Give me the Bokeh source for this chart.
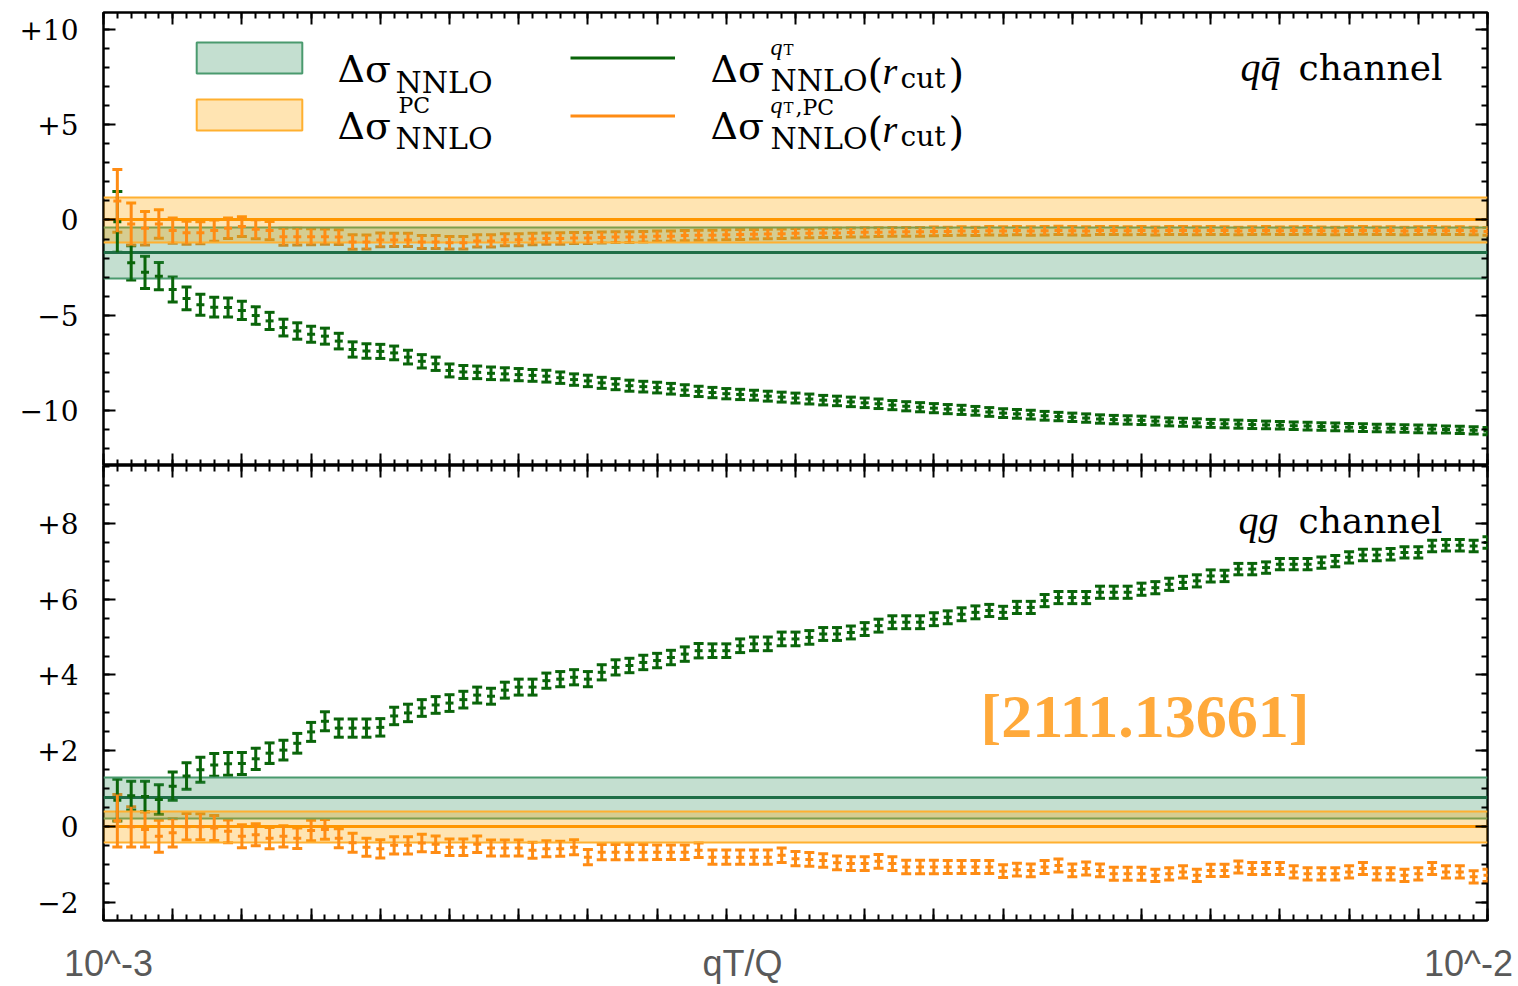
import numpy as np
from bokeh.plotting import figure
from bokeh.layouts import column
from bokeh.models import (LinearAxis, SingleIntervalTicker, FixedTicker, Whisker, TeeHead,
                          ColumnDataSource, Legend, LegendItem, Label, Range1d)
from bokeh.embed import file_html
from bokeh.resources import INLINE

# ---------------- data ----------------
r_cut = [i / 100 for i in range(1, 101)]

qqbar_qT = [
    -0.10, -2.25, -2.75, -2.95, -3.65, -4.12, -4.45, -4.58, -4.60, -4.75,
    -5.02, -5.30, -5.65, -5.83, -6.00, -6.10, -6.36, -6.80, -6.88, -6.90,
    -6.98, -7.20, -7.42, -7.55, -7.90, -7.98, -8.00, -8.05, -8.08, -8.12,
    -8.16, -8.20, -8.28, -8.38, -8.45, -8.55, -8.62, -8.70, -8.75, -8.80,
    -8.86, -8.93, -9.00, -9.06, -9.12, -9.16, -9.20, -9.25, -9.30, -9.35,
    -9.40, -9.46, -9.50, -9.55, -9.60, -9.65, -9.72, -9.78, -9.83, -9.88,
    -9.93, -9.97, -10.02, -10.08, -10.14, -10.18, -10.22, -10.28, -10.32, -10.36,
    -10.40, -10.45, -10.48, -10.50, -10.52, -10.56, -10.60, -10.62, -10.65, -10.68,
    -10.70, -10.72, -10.74, -10.76, -10.78, -10.80, -10.82, -10.84, -10.86, -10.88,
    -10.90, -10.92, -10.93, -10.95, -10.97, -10.98, -11.00, -11.02, -11.04, -11.08]
qqbar_qT_err = [
    1.60, 0.90, 0.85, 0.72, 0.66, 0.60, 0.55, 0.52, 0.50, 0.48,
    0.46, 0.45, 0.44, 0.43, 0.42, 0.42, 0.41, 0.40, 0.38, 0.37,
    0.36, 0.36, 0.35, 0.35, 0.34, 0.34, 0.33, 0.33, 0.32, 0.32,
    0.31, 0.31, 0.30, 0.30, 0.30, 0.29, 0.29, 0.29, 0.28, 0.28,
    0.28, 0.28, 0.27, 0.27, 0.27, 0.27, 0.26, 0.26, 0.26, 0.26,
    0.26, 0.25, 0.25, 0.25, 0.25, 0.25, 0.24, 0.24, 0.24, 0.24,
    0.24, 0.24, 0.23, 0.23, 0.23, 0.23, 0.23, 0.23, 0.22, 0.22,
    0.22, 0.22, 0.22, 0.22, 0.22, 0.21, 0.21, 0.21, 0.21, 0.21,
    0.21, 0.21, 0.21, 0.20, 0.20, 0.20, 0.20, 0.20, 0.20, 0.20,
    0.20, 0.20, 0.20, 0.20, 0.20, 0.20, 0.19, 0.19, 0.19, 0.19]

qqbar_pc = [
    1.00, -0.21, -0.44, -0.21, -0.56, -0.67, -0.67, -0.56, -0.44, -0.35,
    -0.49, -0.56, -0.88, -0.88, -0.88, -0.88, -0.90, -1.16, -1.16, -1.05,
    -1.05, -1.05, -1.16, -1.16, -1.20, -1.20, -1.10, -1.10, -1.04, -1.04,
    -1.00, -0.98, -0.97, -0.95, -0.95, -0.92, -0.90, -0.90, -0.88, -0.85,
    -0.85, -0.82, -0.80, -0.80, -0.78, -0.76, -0.75, -0.74, -0.72, -0.70,
    -0.70, -0.68, -0.68, -0.66, -0.65, -0.64, -0.63, -0.62, -0.62, -0.60,
    -0.60, -0.58, -0.60, -0.57, -0.58, -0.56, -0.58, -0.57, -0.55, -0.57,
    -0.58, -0.56, -0.55, -0.57, -0.56, -0.58, -0.55, -0.56, -0.57, -0.55,
    -0.56, -0.58, -0.56, -0.55, -0.57, -0.56, -0.55, -0.57, -0.58, -0.56,
    -0.55, -0.57, -0.56, -0.58, -0.56, -0.55, -0.57, -0.56, -0.58, -0.60]
qqbar_pc_err = [
    1.65, 1.10, 0.88, 0.75, 0.66, 0.60, 0.58, 0.56, 0.54, 0.52,
    0.50, 0.48, 0.45, 0.44, 0.42, 0.40, 0.39, 0.38, 0.37, 0.36,
    0.35, 0.35, 0.34, 0.34, 0.33, 0.33, 0.32, 0.32, 0.31, 0.31,
    0.30, 0.30, 0.30, 0.29, 0.29, 0.29, 0.28, 0.28, 0.28, 0.27,
    0.27, 0.27, 0.26, 0.26, 0.26, 0.26, 0.25, 0.25, 0.25, 0.25,
    0.24, 0.24, 0.24, 0.24, 0.24, 0.23, 0.23, 0.23, 0.23, 0.23,
    0.22, 0.22, 0.22, 0.22, 0.22, 0.22, 0.22, 0.22, 0.22, 0.22,
    0.22, 0.21, 0.21, 0.21, 0.21, 0.21, 0.21, 0.21, 0.21, 0.21,
    0.20, 0.20, 0.20, 0.20, 0.20, 0.20, 0.20, 0.20, 0.20, 0.20,
    0.20, 0.20, 0.20, 0.20, 0.20, 0.20, 0.20, 0.20, 0.20, 0.20]

qg_qT = [
    0.70, 0.82, 0.80, 0.72, 1.07, 1.34, 1.50, 1.63, 1.66, 1.67,
    1.79, 1.94, 2.02, 2.20, 2.50, 2.78, 2.60, 2.60, 2.60, 2.62,
    2.92, 3.00, 3.13, 3.21, 3.26, 3.35, 3.47, 3.44, 3.60, 3.68,
    3.68, 3.85, 3.89, 3.94, 3.89, 4.07, 4.20, 4.25, 4.33, 4.38,
    4.46, 4.55, 4.64, 4.64, 4.64, 4.77, 4.82, 4.82, 4.95, 4.95,
    4.99, 5.08, 5.08, 5.12, 5.21, 5.30, 5.39, 5.39, 5.39, 5.47,
    5.52, 5.60, 5.65, 5.70, 5.65, 5.78, 5.78, 5.96, 6.04, 6.04,
    6.04, 6.18, 6.18, 6.18, 6.26, 6.30, 6.39, 6.44, 6.48, 6.61,
    6.61, 6.79, 6.79, 6.83, 6.92, 6.92, 6.92, 6.96, 7.00, 7.10,
    7.16, 7.16, 7.18, 7.23, 7.23, 7.40, 7.42, 7.42, 7.40, 7.49]
qg_qT_err = [
    0.55, 0.38, 0.40, 0.39, 0.37, 0.35, 0.33, 0.30, 0.30, 0.29,
    0.28, 0.27, 0.26, 0.26, 0.25, 0.25, 0.24, 0.24, 0.24, 0.23,
    0.23, 0.23, 0.22, 0.22, 0.22, 0.22, 0.21, 0.21, 0.21, 0.21,
    0.21, 0.20, 0.20, 0.20, 0.20, 0.20, 0.20, 0.19, 0.19, 0.19,
    0.19, 0.19, 0.19, 0.18, 0.18, 0.18, 0.18, 0.18, 0.18, 0.18,
    0.18, 0.17, 0.17, 0.17, 0.17, 0.17, 0.17, 0.17, 0.17, 0.17,
    0.17, 0.17, 0.17, 0.16, 0.16, 0.16, 0.16, 0.16, 0.16, 0.16,
    0.16, 0.16, 0.16, 0.16, 0.16, 0.16, 0.16, 0.16, 0.16, 0.16,
    0.15, 0.15, 0.15, 0.15, 0.15, 0.15, 0.15, 0.15, 0.15, 0.15,
    0.15, 0.15, 0.15, 0.15, 0.15, 0.15, 0.15, 0.15, 0.15, 0.15]

qg_pc = [
    0.16, 0.00, -0.07, -0.25, -0.16, 0.00, 0.00, -0.03, -0.12, -0.25,
    -0.21, -0.30, -0.25, -0.30, -0.10, -0.07, -0.30, -0.42, -0.54, -0.58,
    -0.49, -0.49, -0.43, -0.46, -0.54, -0.54, -0.46, -0.56, -0.56, -0.56,
    -0.62, -0.58, -0.58, -0.54, -0.80, -0.67, -0.67, -0.67, -0.67, -0.67,
    -0.67, -0.67, -0.62, -0.80, -0.80, -0.80, -0.80, -0.80, -0.75, -0.84,
    -0.86, -0.89, -0.95, -0.97, -0.97, -0.91, -0.97, -1.06, -1.06, -1.06,
    -1.06, -1.06, -1.06, -1.06, -1.17, -1.13, -1.15, -1.06, -1.02, -1.15,
    -1.10, -1.15, -1.24, -1.24, -1.24, -1.28, -1.24, -1.19, -1.28, -1.15,
    -1.15, -1.06, -1.10, -1.10, -1.10, -1.19, -1.24, -1.24, -1.24, -1.19,
    -1.10, -1.24, -1.24, -1.28, -1.24, -1.10, -1.19, -1.19, -1.32, -1.28]
qg_pc_err = [
    0.69, 0.53, 0.46, 0.42, 0.37, 0.35, 0.34, 0.33, 0.30, 0.30,
    0.29, 0.28, 0.28, 0.27, 0.27, 0.26, 0.25, 0.25, 0.24, 0.24,
    0.23, 0.23, 0.23, 0.22, 0.22, 0.22, 0.22, 0.21, 0.21, 0.21,
    0.21, 0.21, 0.20, 0.20, 0.20, 0.20, 0.20, 0.20, 0.20, 0.19,
    0.19, 0.19, 0.19, 0.19, 0.19, 0.19, 0.19, 0.19, 0.19, 0.19,
    0.18, 0.18, 0.18, 0.18, 0.18, 0.18, 0.18, 0.18, 0.18, 0.18,
    0.17, 0.17, 0.17, 0.17, 0.17, 0.17, 0.17, 0.17, 0.17, 0.17,
    0.17, 0.17, 0.17, 0.17, 0.17, 0.16, 0.16, 0.16, 0.16, 0.16,
    0.16, 0.16, 0.16, 0.16, 0.16, 0.16, 0.16, 0.16, 0.16, 0.16,
    0.16, 0.16, 0.16, 0.16, 0.16, 0.16, 0.16, 0.16, 0.16, 0.16]

# bands: [centre, lower, upper]
qqbar_nnlo_band = [-1.72, -3.05, -0.38]
qqbar_pc_band = [0.00, -1.20, 1.20]
qg_nnlo_band = [0.76, 0.21, 1.31]
qg_pc_band = [0.00, -0.41, 0.40]

top_ticks_labels = {10: "+10", 5: "+5", 0: "0", -5: "\u22125", -10: "\u221210"}
bot_ticks_labels = {8: "+8", 6: "+6", 4: "+4", 2: "+2", 0: "0", -2: "\u22122"}
x_text_pos = [0.0036, 0.4617, 0.9863]
x_text = ["10^-3", "qT/Q", "10^-2"]

# ---------------- styling ----------------
GREEN = "#0a650a"
ORANGE = "#ff8c14"
BAND_G_FILL, BAND_G_EDGE, BAND_G_MID = "#3c9664", "#4a9a6e", "#1f6e46"
BAND_O_FILL, BAND_O_EDGE, BAND_O_MID = "#ffa500", "#ffb030", "#ff9600"
SERIF = "DejaVu Serif"
ITAL = "Liberation Serif"
BAR_W = 3

W = 1518
FL, FR = 103, 1487           # frame left/right (page pixels)
TOP_FT, TOP_FB = 12, 465     # top panel frame top / bottom
BOT_FT, BOT_FB = 465, 922    # bottom panel frame top / bottom
H_TOTAL = 986


def make_fig(height, yr, tb, bb):
    p = figure(width=W, height=height, x_range=Range1d(0, 1.0), y_range=Range1d(*yr),
               output_backend="svg", toolbar_location=None,
               x_axis_location=None, y_axis_location=None,
               min_border_left=FL, min_border_right=W - FR,
               min_border_top=tb, min_border_bottom=bb)
    p.xgrid.visible = False
    p.ygrid.visible = False
    p.outline_line_color = "black"
    p.outline_line_width = 2.5
    p.background_fill_color = "white"
    p.border_fill_color = "white"
    return p


def tick_axis(interval, nminor, labels=None):
    ax = LinearAxis(ticker=SingleIntervalTicker(interval=interval, num_minor_ticks=nminor))
    ax.axis_line_color = None
    ax.major_tick_in = 12
    ax.major_tick_out = 0
    ax.minor_tick_in = 6
    ax.minor_tick_out = 0
    ax.major_tick_line_width = 2
    ax.minor_tick_line_width = 2
    ax.major_tick_line_color = "black"
    ax.minor_tick_line_color = "black"
    if labels is None:
        ax.major_label_text_color = None
        ax.major_label_text_font_size = "1px"
        ax.major_label_standoff = 0
    else:
        ax.major_label_overrides = labels
        ax.major_label_text_font = SERIF
        ax.major_label_text_font_size = "28px"
        ax.major_label_text_color = "black"
        ax.major_label_standoff = 25
    return ax


def add_band(p, band, fill, edge, mid):
    c, lo, hi = band
    r = p.hstrip(y0=[lo], y1=[hi], fill_color=fill, fill_alpha=0.3,
                 line_color=edge, line_width=2)
    p.hspan(y=[c], line_color=mid, line_width=3)
    return r


def add_err(p, y, err, color):
    y = np.array(y)
    e = np.array(err)
    src = ColumnDataSource(dict(x=r_cut, y=y, lo=y - e, hi=y + e))
    seg = p.segment(x0="x", y0="lo", x1="x", y1="hi", source=src,
                    line_color=color, line_width=BAR_W)
    p.add_layout(Whisker(source=src, base="x", lower="lo", upper="hi", dimension="height",
                         line_alpha=0,
                         upper_head=TeeHead(size=10, line_color=color, line_width=BAR_W),
                         lower_head=TeeHead(size=10, line_color=color, line_width=BAR_W)))
    p.scatter("x", "y", source=src, marker="dash", size=8, line_color=color, line_width=BAR_W)
    tick = p.scatter("x", "y", source=src, marker="line", size=7,
                     line_color=color, line_width=BAR_W)
    return seg, tick


def txt(p, fb, text, X, Y, size, font=SERIF, style="normal", color="black", align="left"):
    p.add_layout(Label(x=X - FL, y=fb - Y, x_units="screen", y_units="screen", text=text,
                       text_font=font, text_font_size=f"{size}px", text_font_style=style,
                       text_color=color, text_baseline="alphabetic", text_align=align))


# ---------------- top panel: q qbar ----------------
top = make_fig(TOP_FB, (-12.89, 10.89), TOP_FT, 0)
top.add_layout(tick_axis(5, 5, top_ticks_labels), "left")
top.add_layout(tick_axis(5, 5), "right")
top.add_layout(tick_axis(0.05, 5), "above")
top.add_layout(tick_axis(0.05, 5), "below")

bg = add_band(top, qqbar_nnlo_band, BAND_G_FILL, BAND_G_EDGE, BAND_G_MID)
bo = add_band(top, qqbar_pc_band, BAND_O_FILL, BAND_O_EDGE, BAND_O_MID)
sg, tg = add_err(top, qqbar_qT, qqbar_qT_err, GREEN)
so, to = add_err(top, qqbar_pc, qqbar_pc_err, ORANGE)

# area legend glyphs are inset by 10% on each side
legA = Legend(items=[LegendItem(label=" ", renderers=[bg]), LegendItem(label=" ", renderers=[bo])],
              location=(80, TOP_FB - 134), orientation="vertical",
              glyph_width=132, glyph_height=39, spacing=18, padding=0, margin=0,
              border_line_color=None, background_fill_alpha=0, label_standoff=0,
              label_text_font_size="1px", label_width=1, label_height=1)
legB = Legend(items=[LegendItem(label=" ", renderers=[sg, tg]), LegendItem(label=" ", renderers=[so, to])],
              location=(570 - FL, TOP_FB - 131), orientation="vertical",
              glyph_width=105, glyph_height=31, spacing=27, padding=0, margin=0,
              border_line_color=None, background_fill_alpha=0, label_standoff=0,
              label_text_font_size="1px", label_width=1, label_height=1)
top.add_layout(legA)
top.add_layout(legB)

# legend texts
txt(top, TOP_FB, "\u0394\u03c3", 337, 68, 38)
txt(top, TOP_FB, "NNLO", 395, 82, 30)
txt(top, TOP_FB, "\u0394\u03c3", 337, 125, 38)
txt(top, TOP_FB, "PC", 398, 105, 22)
txt(top, TOP_FB, "NNLO", 395, 138, 30)

txt(top, TOP_FB, "\u0394\u03c3", 710, 68, 38)
txt(top, TOP_FB, "q", 770, 46, 24, font=ITAL, style="italic")
txt(top, TOP_FB, "T", 783, 49, 15)
txt(top, TOP_FB, "NNLO", 770, 80, 30)
txt(top, TOP_FB, "(", 867, 72, 40)
txt(top, TOP_FB, "r", 882, 70, 38, font=ITAL, style="italic")
txt(top, TOP_FB, "cut", 900, 78, 28)
txt(top, TOP_FB, ")", 948, 72, 40)

txt(top, TOP_FB, "\u0394\u03c3", 710, 125, 38)
txt(top, TOP_FB, "q", 770, 104, 24, font=ITAL, style="italic")
txt(top, TOP_FB, "T", 783, 107, 15)
txt(top, TOP_FB, ",PC", 795, 107, 22)
txt(top, TOP_FB, "NNLO", 770, 138, 30)
txt(top, TOP_FB, "(", 867, 130, 40)
txt(top, TOP_FB, "r", 882, 128, 38, font=ITAL, style="italic")
txt(top, TOP_FB, "cut", 900, 136, 28)
txt(top, TOP_FB, ")", 948, 130, 40)

txt(top, TOP_FB, "qq\u0304", 1240, 67, 40, font=ITAL, style="italic")
txt(top, TOP_FB, "channel", 1298, 67, 36)

# ---------------- bottom panel: q g ----------------
bot_h = H_TOTAL - TOP_FB
bot = make_fig(bot_h, (-2.47, 9.52), 0, bot_h - (BOT_FB - BOT_FT))
bot.add_layout(tick_axis(2, 4, bot_ticks_labels), "left")
bot.add_layout(tick_axis(2, 4), "right")
bot.add_layout(tick_axis(0.05, 5), "above")
bot.add_layout(tick_axis(0.05, 5), "below")

xlab = LinearAxis(ticker=FixedTicker(ticks=x_text_pos, minor_ticks=[]))
xlab.major_label_overrides = dict(zip(x_text_pos, x_text))
xlab.axis_line_color = None
xlab.major_tick_line_color = None
xlab.minor_tick_line_color = None
xlab.major_tick_in = 0
xlab.major_tick_out = 0
xlab.major_label_standoff = 22
xlab.major_label_text_font = "Liberation Sans"
xlab.major_label_text_font_size = "36px"
xlab.major_label_text_color = "#595959"
bot.add_layout(xlab, "below")

add_band(bot, qg_nnlo_band, BAND_G_FILL, BAND_G_EDGE, BAND_G_MID)
add_band(bot, qg_pc_band, BAND_O_FILL, BAND_O_EDGE, BAND_O_MID)
add_err(bot, qg_qT, qg_qT_err, GREEN)
add_err(bot, qg_pc, qg_pc_err, ORANGE)

txt(bot, BOT_FB, "qg", 1238, 522, 40, font=ITAL, style="italic")
txt(bot, BOT_FB, "channel", 1298, 522, 36)
txt(bot, BOT_FB, "[2111.13661]", 980, 717, 62, font=ITAL, style="bold", color="#ffa93a")

layout = column(top, bot, spacing=0)
open("out.html", "w").write(file_html(layout, INLINE))
